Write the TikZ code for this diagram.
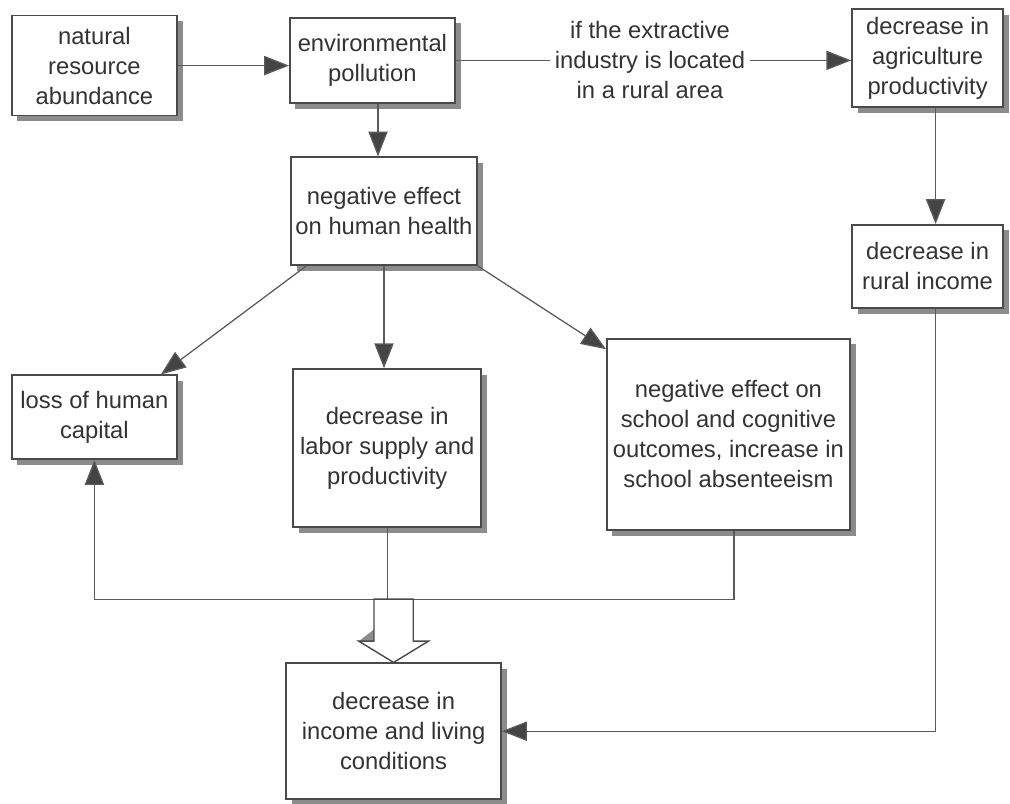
\documentclass[tikz,border=0pt]{standalone}
\usepackage{fontspec}
\setmainfont{Liberation Sans}
\usetikzlibrary{arrows.meta,shadows,calc}

\definecolor{boxline}{HTML}{4A4A4A}
\definecolor{linkline}{HTML}{5A5A5A}
\definecolor{tipfill}{HTML}{444444}
\definecolor{shadowgray}{HTML}{8C8C8C}
\definecolor{textgray}{HTML}{333333}

\begin{document}
\begin{tikzpicture}[
    box/.style={draw=boxline, line width=1.1pt, fill=white, align=center,
        text=textgray, inner sep=2pt,
        font=\fontsize{16.9}{21.3}\selectfont,
        drop shadow={shadow xshift=0.14cm, shadow yshift=-0.14cm,
            fill=shadowgray, opacity=1}},
    link/.style={draw=linkline, line width=0.9pt},
    arr/.style={link, -{Triangle[length=0.62cm, width=0.48cm, fill=tipfill]}}
]

\useasboundingbox (0,0) rectangle (25.25,-20.1);

% ============================
% Top row
% ============================
\node[box, minimum width=4.13cm, minimum height=2.5cm] (nat) at (2.36,-1.64)
    {natural\\resource\\abundance};
\node[box, minimum width=4.13cm, minimum height=2.13cm] (pol) at (9.31,-1.51)
    {environmental\\pollution};
\node[box, minimum width=3.78cm, minimum height=2.45cm] (agri) at (23.19,-1.45)
    {decrease in\\agriculture\\productivity};

% condition on the link to agriculture
\node[align=center, text=textgray, inner xsep=0.12cm,
    font=\fontsize{16.9}{21.3}\selectfont] (cond) at (16.25,-1.51)
    {if the extractive\\industry is located\\in a rural area};

% ============================
% Middle
% ============================
\node[box, minimum width=4.65cm, minimum height=2.7cm] (health) at (9.6,-5.28)
    {negative effect\\on human health};
\node[box, minimum width=3.78cm, minimum height=2.08cm] (rural) at (23.19,-6.66)
    {decrease in\\rural income};

% ============================
% Effects of bad health
% ============================
\node[box, minimum width=4.13cm, minimum height=2.1cm] (loss) at (2.36,-10.43)
    {loss of human\\capital};
\node[box, minimum width=4.7cm, minimum height=3.95cm] (labor) at (9.68,-11.2)
    {decrease in\\labor supply and\\productivity};
\node[box, minimum width=6.08cm, minimum height=4.78cm] (school) at (18.21,-10.86)
    {negative effect on\\school and cognitive\\outcomes, increase in\\school absenteeism};

% ============================
% Bottom
% ============================
\node[box, minimum width=5.38cm, minimum height=3.4cm] (income) at (9.84,-18.28)
    {decrease in\\income and living\\conditions};

% ============================
% Connectors
% ============================
\draw[arr] (nat.east) -- (nat.east -| pol.west);
\draw[link] (pol.east) -- (pol.east -| cond.west);
\draw[arr] (cond.east) -- (cond.east -| agri.west);
\draw[arr] ([xshift=0.14cm]pol.south) -- ([xshift=0.14cm]pol.south |- health.north);
\draw[arr] ([xshift=0.2cm]agri.south) -- ([xshift=0.2cm]rural.north);

\draw[arr] ([xshift=0.4cm]health.south west) -- ([xshift=-0.42cm]loss.north east);
\draw[arr] (health.south) -- (health.south |- labor.north);
\draw[arr] (health.south east) -- ([yshift=-0.28cm]school.north west);

% Merge line under the three effects
\coordinate (merge) at (0,-14.98);
\draw[arr] ([xshift=0.14cm]school.south) |- (loss.south |- merge) -- (loss.south);
\draw[link] (labor.south) -- (labor.south |- merge);

% Rural income down to living conditions
\draw[arr] ([xshift=0.2cm]rural.south) |- (income.east);

% Hollow block arrow into income box
\coordinate (btop) at (income.north |- merge);
\fill[shadowgray, shift={(0.12,-0.1)}]
    ($(btop)+(0.49,0)$) -- ($(btop)+(0.49,-1.05)$) -- ($(btop)+(0.87,-1.05)$)
    -- (income.north) -- ($(btop)+(-0.87,-1.05)$) -- cycle;
\draw[draw=boxline, line width=1pt, fill=white, line join=miter]
    ($(btop)+(-0.49,0)$) -- ($(btop)+(0.49,0)$) -- ($(btop)+(0.49,-1.05)$)
    -- ($(btop)+(0.87,-1.05)$) -- (income.north) -- ($(btop)+(-0.87,-1.05)$)
    -- ($(btop)+(-0.49,-1.05)$) -- cycle;

\end{tikzpicture}
\end{document}
